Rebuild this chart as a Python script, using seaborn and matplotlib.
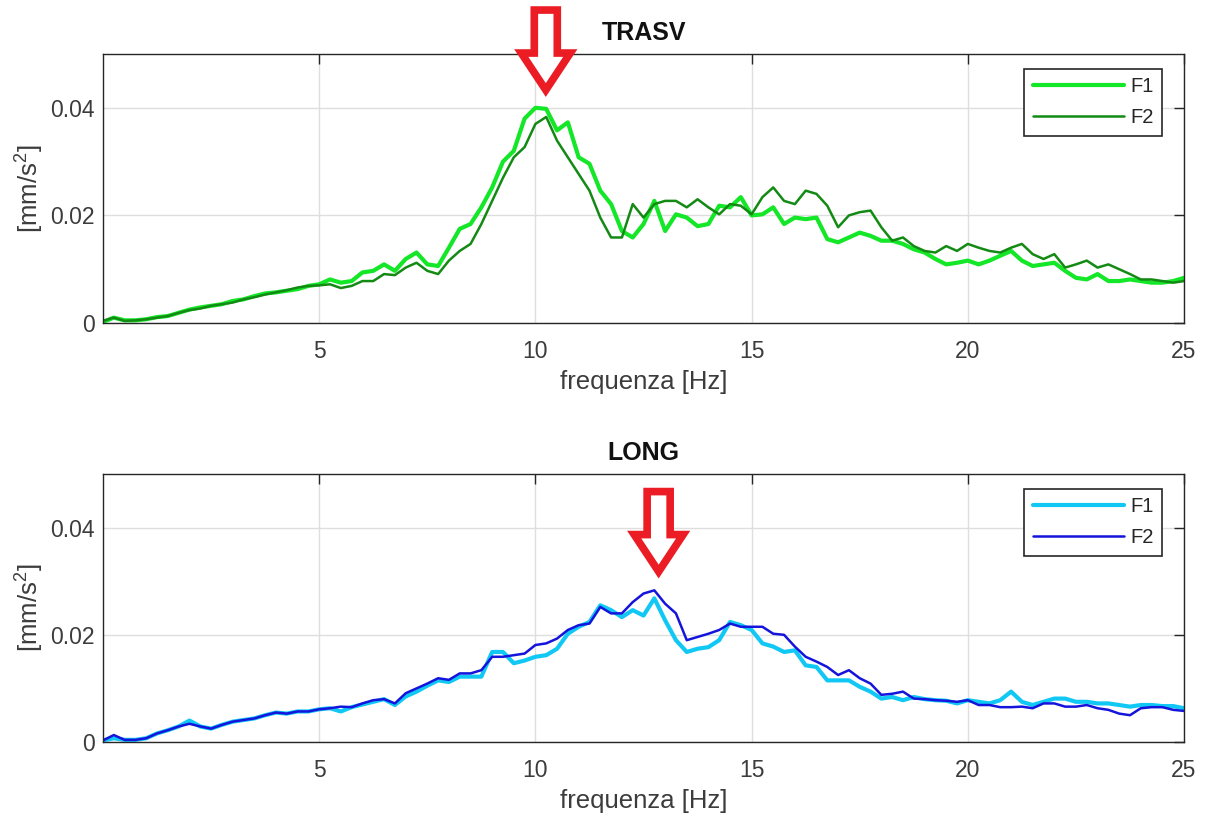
import numpy as np
import matplotlib
matplotlib.use('Agg')
import matplotlib.pyplot as plt
import matplotlib.transforms as mtransforms
from matplotlib.patches import Polygon
import seaborn as sns

# frequency axis [Hz], values read every 0.25 Hz
freq = np.arange(0, 25.01, 0.25)

trasv_f1 = [
    0.0002, 0.0010, 0.0005, 0.0005, 0.0007, 0.0011, 0.0013, 0.0019, 0.0025, 0.0029,
    0.0032, 0.0035, 0.0041, 0.0044, 0.0050, 0.0055, 0.0057, 0.0060, 0.0063, 0.0069,
    0.0072, 0.0081, 0.0075, 0.0078, 0.0094, 0.0097, 0.0109, 0.0097, 0.0119, 0.0131,
    0.0109, 0.0106, 0.0140, 0.0175, 0.0184, 0.0215, 0.0252, 0.0300, 0.0320, 0.0380,
    0.0400, 0.0398, 0.0358, 0.0373, 0.0308, 0.0296, 0.0246, 0.0221, 0.0171, 0.0159,
    0.0184, 0.0227, 0.0171, 0.0202, 0.0196, 0.0180, 0.0184, 0.0218, 0.0215, 0.0234,
    0.0200, 0.0202, 0.0215, 0.0184, 0.0196, 0.0193, 0.0196, 0.0156, 0.0150, 0.0159,
    0.0168, 0.0162, 0.0153, 0.0153, 0.0147, 0.0137, 0.0131, 0.0119, 0.0109, 0.0112,
    0.0116, 0.0109, 0.0116, 0.0125, 0.0134, 0.0116, 0.0106, 0.0109, 0.0112, 0.0097,
    0.0084, 0.0081, 0.0091, 0.0078, 0.0078, 0.0081, 0.0078, 0.0075, 0.0075, 0.0078,
    0.0084,
]
trasv_f2 = [
    0.0004, 0.0010, 0.0004, 0.0005, 0.0007, 0.0010, 0.0013, 0.0019, 0.0024, 0.0027,
    0.0032, 0.0035, 0.0038, 0.0044, 0.0048, 0.0053, 0.0057, 0.0061, 0.0066, 0.0069,
    0.0070, 0.0072, 0.0065, 0.0069, 0.0078, 0.0078, 0.0091, 0.0089, 0.0103, 0.0112,
    0.0097, 0.0091, 0.0116, 0.0134, 0.0147, 0.0184, 0.0227, 0.0270, 0.0308, 0.0327,
    0.0370, 0.0383, 0.0339, 0.0308, 0.0277, 0.0246, 0.0196, 0.0159, 0.0159, 0.0221,
    0.0196, 0.0221, 0.0227, 0.0227, 0.0215, 0.0230, 0.0215, 0.0202, 0.0221, 0.0218,
    0.0202, 0.0234, 0.0252, 0.0227, 0.0221, 0.0246, 0.0240, 0.0218, 0.0178, 0.0200,
    0.0206, 0.0209, 0.0178, 0.0153, 0.0159, 0.0143, 0.0134, 0.0131, 0.0143, 0.0134,
    0.0147, 0.0140, 0.0134, 0.0131, 0.0140, 0.0147, 0.0128, 0.0119, 0.0128, 0.0103,
    0.0109, 0.0116, 0.0103, 0.0109, 0.0100, 0.0091, 0.0081, 0.0081, 0.0078, 0.0075,
    0.0078,
]
long_f1 = [
    0.0003, 0.0007, 0.0004, 0.0004, 0.0007, 0.0016, 0.0022, 0.0029, 0.0040, 0.0029,
    0.0025, 0.0032, 0.0038, 0.0041, 0.0044, 0.0050, 0.0055, 0.0053, 0.0057, 0.0057,
    0.0061, 0.0063, 0.0057, 0.0065, 0.0070, 0.0075, 0.0080, 0.0069, 0.0085, 0.0094,
    0.0105, 0.0115, 0.0112, 0.0122, 0.0122, 0.0122, 0.0168, 0.0168, 0.0147, 0.0152,
    0.0159, 0.0162, 0.0174, 0.0202, 0.0215, 0.0224, 0.0255, 0.0246, 0.0233, 0.0246,
    0.0236, 0.0268, 0.0227, 0.0190, 0.0168, 0.0174, 0.0177, 0.0190, 0.0224, 0.0218,
    0.0209, 0.0184, 0.0178, 0.0168, 0.0171, 0.0143, 0.0140, 0.0115, 0.0115, 0.0115,
    0.0103, 0.0094, 0.0081, 0.0084, 0.0078, 0.0084, 0.0080, 0.0078, 0.0077, 0.0072,
    0.0078, 0.0075, 0.0072, 0.0078, 0.0094, 0.0075, 0.0069, 0.0075, 0.0081, 0.0081,
    0.0075, 0.0075, 0.0072, 0.0072, 0.0069, 0.0066, 0.0069, 0.0069, 0.0067, 0.0067,
    0.0063,
]
long_f2 = [
    0.0003, 0.0013, 0.0004, 0.0004, 0.0007, 0.0016, 0.0022, 0.0029, 0.0034, 0.0029,
    0.0025, 0.0032, 0.0038, 0.0041, 0.0044, 0.0050, 0.0055, 0.0053, 0.0057, 0.0057,
    0.0061, 0.0063, 0.0066, 0.0065, 0.0072, 0.0078, 0.0080, 0.0072, 0.0091, 0.0100,
    0.0109, 0.0119, 0.0116, 0.0128, 0.0128, 0.0134, 0.0159, 0.0159, 0.0162, 0.0165,
    0.0181, 0.0184, 0.0193, 0.0209, 0.0218, 0.0221, 0.0252, 0.0240, 0.0240, 0.0261,
    0.0277, 0.0283, 0.0258, 0.0240, 0.0190, 0.0196, 0.0202, 0.0209, 0.0221, 0.0215,
    0.0215, 0.0215, 0.0202, 0.0200, 0.0178, 0.0159, 0.0150, 0.0140, 0.0125, 0.0134,
    0.0119, 0.0109, 0.0088, 0.0090, 0.0094, 0.0081, 0.0080, 0.0078, 0.0077, 0.0075,
    0.0078, 0.0069, 0.0069, 0.0065, 0.0065, 0.0066, 0.0063, 0.0072, 0.0072, 0.0066,
    0.0066, 0.0069, 0.0063, 0.0060, 0.0053, 0.0050, 0.0063, 0.0065, 0.0065, 0.0060,
    0.0058,
]

titles = ['TRASV', 'LONG']
series_labels = ['F1', 'F2']
peak_freq = [10.24, 12.85]
peak_tip = [0.0433, 0.0318]

sns.set_theme(style='white')
plt.rcParams['font.family'] = ['Liberation Sans', 'DejaVu Sans']
plt.rcParams['mathtext.fontset'] = 'custom'
plt.rcParams['mathtext.rm'] = 'Liberation Sans'
plt.rcParams['mathtext.it'] = 'Liberation Sans'

fig = plt.figure(figsize=(12.06, 8.18), dpi=100)
ax1 = fig.add_axes([0.0854, 0.6051, 0.8964, 0.3289])
ax2 = fig.add_axes([0.0854, 0.0929, 0.8964, 0.3276])

panels = [
    (ax1, trasv_f1, trasv_f2, '#14e628', '#138a13'),
    (ax2, long_f1, long_f2, '#11c8f5', '#1414dc'),
]

for i, (ax, y1, y2, c1, c2) in enumerate(panels):
    sns.lineplot(x=freq, y=y1, ax=ax, color=c1, linewidth=3.0, label=series_labels[0])
    sns.lineplot(x=freq, y=y2, ax=ax, color=c2, linewidth=1.8, label=series_labels[1])

    ax.set_xlim(0, 25)
    ax.set_ylim(0, 0.05)
    ax.set_xticks([5, 10, 15, 20, 25])
    ax.set_yticks([0, 0.02, 0.04])
    ax.set_yticklabels(['0', '0.02', '0.04'])
    ax.grid(True, color='#dedede', linewidth=1)
    ax.set_axisbelow(True)
    ax.tick_params(direction='in', top=True, right=True, length=7, width=1,
                   color='#262626', labelcolor='#3c3c3c', labelsize=16.5)
    ax.tick_params(axis='x', pad=12)
    ax.tick_params(axis='y', pad=6)
    for sp in ax.spines.values():
        sp.set_visible(True)
        sp.set_color('#262626')
        sp.set_linewidth(1)

    ax.set_xlabel('frequenza [Hz]', fontsize=18.5, color='#3c3c3c')
    ax.xaxis.set_label_coords(0.5, -0.175)
    ax.set_ylabel('[mm/s$^2$]', fontsize=18.5, color='#3c3c3c')
    ax.yaxis.set_label_coords(-0.053, 0.5)
    ax.set_title(titles[i], fontsize=18, fontweight='bold', color='#111111', pad=10)

    leg = ax.legend(loc='upper right', bbox_to_anchor=(0.98, 0.945), borderaxespad=0,
                    fontsize=14.5, handlelength=4.5, handletextpad=0.35,
                    labelspacing=0.6, borderpad=0.42, fancybox=False, framealpha=1)
    leg.get_frame().set_edgecolor('#262626')
    leg.get_frame().set_linewidth(1.2)
    for t in leg.get_texts():
        t.set_color('#262626')

    # hollow red arrow pointing down at the resonance peak
    arrow_in = np.array([[0, 0], [0.245, 0.37], [0.115, 0.37], [0.115, 0.80],
                         [-0.115, 0.80], [-0.115, 0.37], [-0.245, 0.37]])
    trans = fig.dpi_scale_trans + mtransforms.ScaledTranslation(peak_freq[i], peak_tip[i], ax.transData)
    arrow = Polygon(arrow_in, closed=True, transform=trans, facecolor='white',
                    edgecolor='#ec1c24', linewidth=5.5, joinstyle='miter', clip_on=False, zorder=10)
    ax.add_patch(arrow)

fig.savefig('out.png', dpi=100)
